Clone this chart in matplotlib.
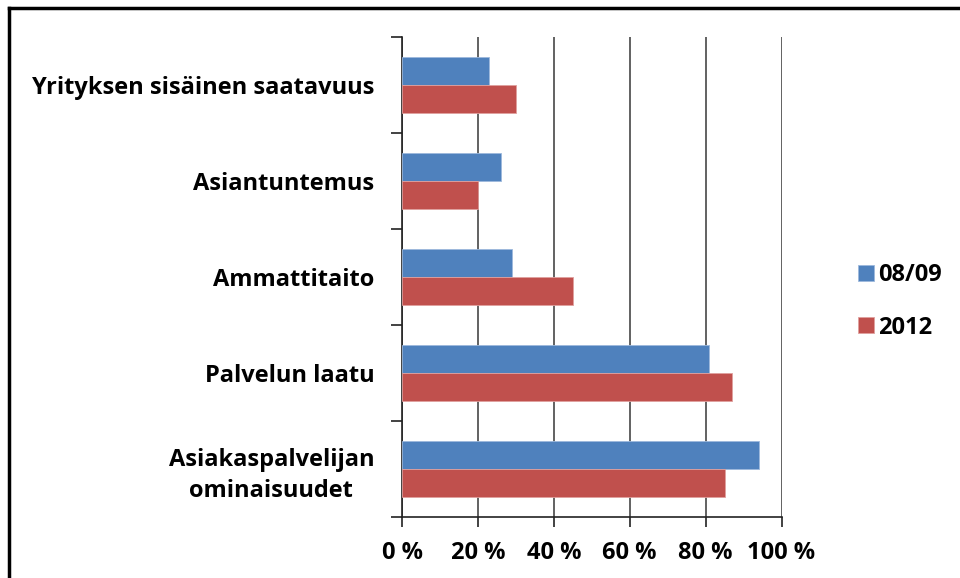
import matplotlib
matplotlib.use("Agg")
import matplotlib.pyplot as plt
import numpy as np
from matplotlib.lines import Line2D

categories = ["Yrityksen sisäinen saatavuus", "Asiantuntemus", "Ammattitaito",
              "Palvelun laatu", "Asiakaspalvelijan\nominaisuudet"]
series_names = ["08/09", "2012"]
values_0809 = [23, 26, 29, 81, 94]
values_2012 = [30, 20, 45, 87, 85]
xticks = [0, 20, 40, 60, 80, 100]
xtick_labels = ["0 %", "20 %", "40 %", "60 %", "80 %", "100 %"]
colors = ["#4F81BD", "#C0504D"]

plt.rcParams['font.family'] = ['Open Sans', 'DejaVu Sans']
plt.rcParams['font.weight'] = 'bold'

fig = plt.figure(figsize=(9.6, 5.78), dpi=100)
ax = fig.add_axes([402/960, 1-517/578, (781.5-402)/960, (517-37)/578])

n = len(categories)
pos = np.arange(n)[::-1]  # first category at top
h = 0.287
ax.barh(pos + h/2, values_0809, height=h, color=colors[0], label=series_names[0], zorder=3,
        edgecolor="#9DB9DC", linewidth=0.6)
ax.barh(pos - h/2, values_2012, height=h, color=colors[1], label=series_names[1], zorder=3,
        edgecolor="#E0A09E", linewidth=0.6)

fs = 17
ax.set_xlim(0, 100)
ax.set_ylim(-0.5, n - 0.5)
ax.set_xticks(xticks)
ax.set_xticklabels(xtick_labels, fontsize=fs, fontweight='bold')
ax.set_yticks(pos)
ax.set_yticklabels(categories, fontsize=fs, fontweight='bold', linespacing=1.4,
                   multialignment='center')
ax.set_yticks(np.arange(-0.5, n, 1.0), minor=True)
ax.tick_params(axis='y', which='major', length=0, pad=20)
ax.tick_params(axis='y', which='minor', length=8, width=1.2, color='#222222', direction='out')
ax.tick_params(axis='x', which='major', length=7, width=1.2, color='#222222', direction='out', pad=10)

ax.grid(axis='x', color='#555555', linewidth=1.3, zorder=0)
ax.set_axisbelow(True)
for s in ['top', 'right']:
    ax.spines[s].set_visible(False)
for s in ['left', 'bottom']:
    ax.spines[s].set_color('#222222')
    ax.spines[s].set_linewidth(1.2)

leg = fig.legend(loc='upper left', bbox_to_anchor=(837/960, 1-242/578), frameon=False,
                 prop={'size': fs, 'weight': 'bold'}, handlelength=0.65, handleheight=0.65,
                 handletextpad=0.2, labelspacing=1.2)

# outer frame (top and left edges visible)
fig.add_artist(Line2D([9/960, 1.0], [1-8/578, 1-8/578], color='black', linewidth=2.5,
                      transform=fig.transFigure))
fig.add_artist(Line2D([9/960, 9/960], [0.0, 1-8/578], color='black', linewidth=2.5,
                      transform=fig.transFigure))

fig.savefig("out.png", dpi=100, facecolor='white')
